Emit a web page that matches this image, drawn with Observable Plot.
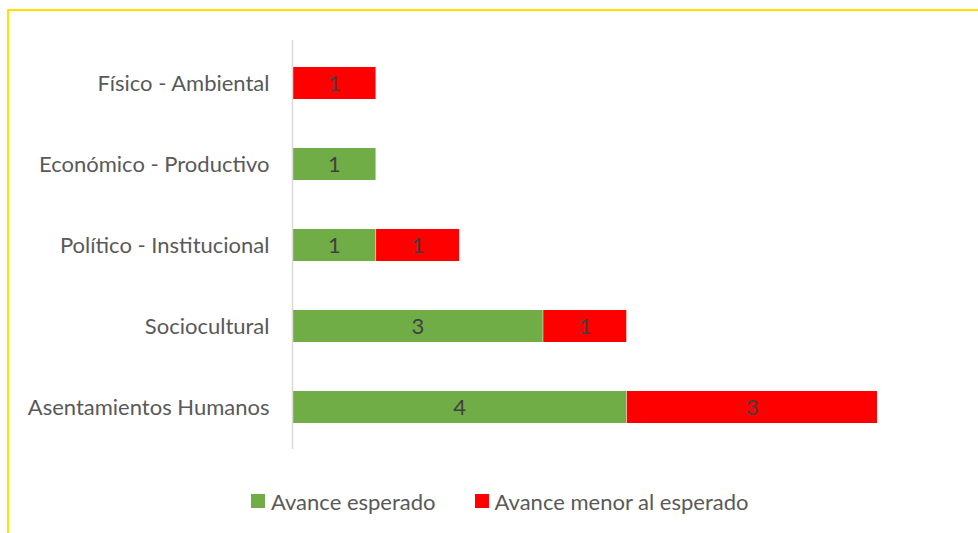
<!DOCTYPE html>
<html>
<head>
<meta charset="utf-8">
<script src="https://cdn.jsdelivr.net/npm/d3@7"></script>
<script src="https://cdn.jsdelivr.net/npm/@observablehq/plot@0.6"></script>
<style>
  html, body { margin: 0; padding: 0; background: #fff; overflow: hidden; }
  #page { position: relative; width: 978px; height: 533px; overflow: hidden; font-family: Lato, "Noto Sans", sans-serif; }
  #frame { position: absolute; left: 7px; top: 9px; width: 1100px; height: 700px; border: 2px solid #FFE000; box-sizing: border-box; pointer-events: none; }
  #chart { position: absolute; left: 0; top: 0; }
  #legend { position: absolute; left: 251px; top: 486px; height: 30px; display: flex; align-items: center; font-size: 22px; color: #595959; white-space: nowrap; }
  .sw { display: inline-block; width: 14px; height: 14px; margin-right: 6px; }
  .item { display: flex; align-items: center; margin-right: 39px; }
</style>
</head>
<body>
<div id="page">
  <div id="chart"></div>
  <div id="legend"></div>
  <div id="frame"></div>
</div>
<script>
const categories = ["Físico - Ambiental", "Económico - Productivo", "Político - Institucional", "Sociocultural", "Asentamientos Humanos"];
const seriesNames = ["Avance esperado", "Avance menor al esperado"];
const esperado = [0, 1, 1, 3, 4];
const menor = [1, 0, 1, 1, 3];
const colors = ["#70AD47", "#FF0000"];

const data = [];
categories.forEach((c, i) => {
  if (esperado[i] > 0) data.push({cat: c, serie: seriesNames[0], value: esperado[i]});
  if (menor[i] > 0) data.push({cat: c, serie: seriesNames[1], value: menor[i]});
});

const chart = Plot.plot({
  width: 978,
  height: 470,
  marginLeft: 292,
  marginRight: 101,
  marginTop: 40,
  marginBottom: 21,
  style: {fontFamily: "Lato, 'Noto Sans', sans-serif", fontSize: "22px", color: "#595959", background: "transparent"},
  x: {domain: [0, 7], axis: null},
  y: {domain: categories, paddingInner: 0.61, paddingOuter: 0.305, label: null, axis: null},
  color: {domain: seriesNames, range: colors},
  marks: [
    Plot.barX(data, Plot.stackX({x: "value", y: "cat", fill: "serie", order: seriesNames, insetLeft: 0.5})),
    Plot.text(data, Plot.stackX({x: "value", y: "cat", z: "serie", order: seriesNames, text: d => String(d.value), textAnchor: "middle", fontSize: 22, fill: "#404040"})),
    Plot.ruleX([0], {stroke: "#D9D9D9", strokeWidth: 1.5}),
    Plot.axisY({tickSize: 0, tickPadding: 23, label: null, fill: "#595959", fontSize: 22})
  ]
});
document.getElementById("chart").appendChild(chart);

const legend = document.getElementById("legend");
seriesNames.forEach((s, i) => {
  const item = document.createElement("div");
  item.className = "item";
  const sw = document.createElement("span");
  sw.className = "sw";
  sw.style.background = colors[i];
  item.appendChild(sw);
  item.appendChild(document.createTextNode(s));
  legend.appendChild(item);
});
</script>
</body>
</html>
